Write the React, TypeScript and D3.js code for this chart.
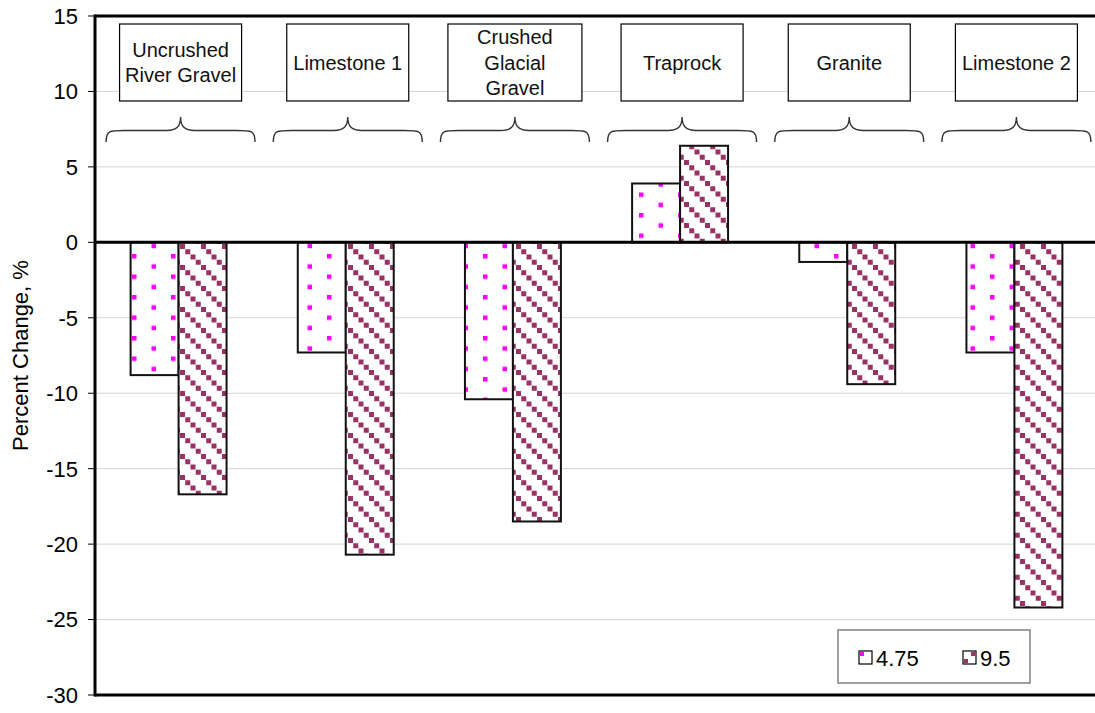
import React from 'react'
import * as d3 from 'd3'

// aggregate types, one group of bars each
const categories = ['Uncrushed River Gravel', 'Limestone 1', 'Crushed Glacial Gravel', 'Traprock', 'Granite', 'Limestone 2']
const labelLines = [['Uncrushed', 'River Gravel'], ['Limestone 1'], ['Crushed', 'Glacial', 'Gravel'], ['Traprock'], ['Granite'], ['Limestone 2']]
const seriesNames = ['4.75', '9.5']
const values475 = [-8.8, -7.3, -10.4, 3.9, -1.3, -7.3]
const values95 = [-16.7, -20.7, -18.5, 6.4, -9.4, -24.2]
const yTicks = [15, 10, 5, 0, -5, -10, -15, -20, -25, -30]

export default function App() {
  const width = 1095
  const height = 713
  const left = 95
  const top = 16
  const bottom = 695
  const right = 1098

  const y = d3.scaleLinear().domain([-30, 15]).range([bottom, top])
  const x = d3.scaleBand().domain(categories).range([left, right]).paddingInner(0.426).paddingOuter(0.213)
  const xs = d3.scaleBand().domain(seriesNames).range([0, x.bandwidth()])
  const series = [values475, values95]
  const fills = ['url(#dots)', 'url(#stripes)']

  // curly brace opening downward
  const brace = (cx: number, w: number, y0: number, y1: number) => {
    const h = w / 2
    const mid = (y0 + y1) / 2 + 1
    const p = d3.path()
    p.moveTo(cx - h, y1)
    p.bezierCurveTo(cx - h, mid, cx - h + 4, mid, cx - h + 18, mid)
    p.lineTo(cx - 14, mid)
    p.bezierCurveTo(cx - 4, mid, cx, mid - 4, cx, y0)
    p.bezierCurveTo(cx, mid - 4, cx + 4, mid, cx + 14, mid)
    p.lineTo(cx + h - 18, mid)
    p.bezierCurveTo(cx + h - 4, mid, cx + h, mid, cx + h, y1)
    return p.toString()
  }

  const font = 'Liberation Sans, Arial, sans-serif'

  return (
    <div style={{ position: 'absolute', left: 0, top: 0 }}>
      <svg width={width} height={height} style={{ display: 'block', background: '#fff' }}>
        <defs>
          <pattern id="dots" patternUnits="userSpaceOnUse" width={39} height={20.5} x={132} y={254}>
            <rect width={39} height={20.5} fill="#fff" />
            <rect x={0} y={0} width={4.5} height={4.5} fill="#ff00ff" />
            <rect x={19.5} y={10.25} width={4.5} height={4.5} fill="#ff00ff" />
          </pattern>
          <pattern id="stripes" patternUnits="userSpaceOnUse" width={21} height={21} x={180} y={244}>
            <rect width={21} height={21} fill="#fff" />
            {[0, 1, 2, 3].map(i => (
              <rect key={i} x={i * 5.25} y={i * 5.25} width={5} height={5} fill="#993366" />
            ))}
          </pattern>
        </defs>

        {/* grid */}
        {yTicks.filter(t => t !== 15 && t !== -30 && t !== 0).map(t => (
          <line key={t} x1={left} x2={width} y1={y(t)} y2={y(t)} stroke="#d4d4d4" strokeWidth={1} />
        ))}

        {/* ticks & labels */}
        {yTicks.map(t => (
          <g key={t}>
            <line x1={88} x2={left} y1={y(t)} y2={y(t)} stroke="#000" strokeWidth={1} />
            <text x={78} y={y(t)} dy="0.36em" textAnchor="end" fontFamily={font} fontSize={22} fill="#000">{t}</text>
          </g>
        ))}

        <text transform={`translate(28,${(top + bottom) / 2}) rotate(-90)`} textAnchor="middle" fontFamily={font} fontSize={22} fill="#000">Percent Change, %</text>

        {/* bars */}
        {series.map((vals, si) => vals.map((v, ci) => {
          const bx = (x(categories[ci]) as number) + (xs(seriesNames[si]) as number)
          const y0 = Math.min(y(v), y(0))
          const h = Math.abs(y(v) - y(0))
          return <rect key={`${si}-${ci}`} x={bx} y={y0} width={xs.bandwidth()} height={h} fill={fills[si]} stroke="#111" strokeWidth={2} />
        }))}

        {/* frame */}
        <line x1={left} x2={width} y1={y(0)} y2={y(0)} stroke="#000" strokeWidth={3} />
        <line x1={left} x2={width} y1={top} y2={top} stroke="#000" strokeWidth={3} />
        <line x1={left} x2={width} y1={bottom} y2={bottom} stroke="#000" strokeWidth={3} />
        <line x1={left} x2={left} y1={top - 1.5} y2={bottom + 1.5} stroke="#000" strokeWidth={3} />

        {/* category label boxes and braces */}
        {categories.map((c, i) => {
          const cx = (x(c) as number) + x.bandwidth() / 2
          const lines = labelLines[i]
          const bw = lines.length === 3 ? 134 : 122
          const boxTop = 24
          const boxH = 77
          const lh = 25.5
          const mid = boxTop + boxH / 2
          return (
            <g key={c}>
              <rect x={cx - bw / 2 + 2} y={boxTop} width={bw} height={boxH} fill="#fff" stroke="#000" strokeWidth={1.2} />
              {lines.map((l, li) => (
                <text key={li} x={cx + 2} y={mid + (li - (lines.length - 1) / 2) * lh} dy="0.36em" textAnchor="middle" fontFamily={font} fontSize={20} fill="#111">{l}</text>
              ))}
              <path d={brace(cx + 2, 149, 117, 142)} fill="none" stroke="#333" strokeWidth={1.4} />
            </g>
          )
        })}

        {/* legend */}
        <g>
          <rect x={838} y={630} width={192} height={53} fill="#fff" stroke="#808080" strokeWidth={1.5} />
          {seriesNames.map((s, i) => {
            const lx = i === 0 ? 859 : 963
            return (
              <g key={s}>
                <rect x={lx} y={651} width={13} height={13} fill="#fff" stroke="#000" strokeWidth={1.2} />
                {i === 0 ? (
                  <rect x={lx + 1} y={652} width={4} height={4} fill="#ff00ff" />
                ) : (
                  <>
                    <rect x={lx + 8} y={652} width={4} height={4} fill="#993366" />
                    <rect x={lx + 1} y={659} width={4} height={4} fill="#993366" />
                  </>
                )}
                <text x={lx + 17} y={658} dy="0.36em" fontFamily={font} fontSize={22} fill="#000">{s}</text>
              </g>
            )
          })}
        </g>
      </svg>
    </div>
  )
}
